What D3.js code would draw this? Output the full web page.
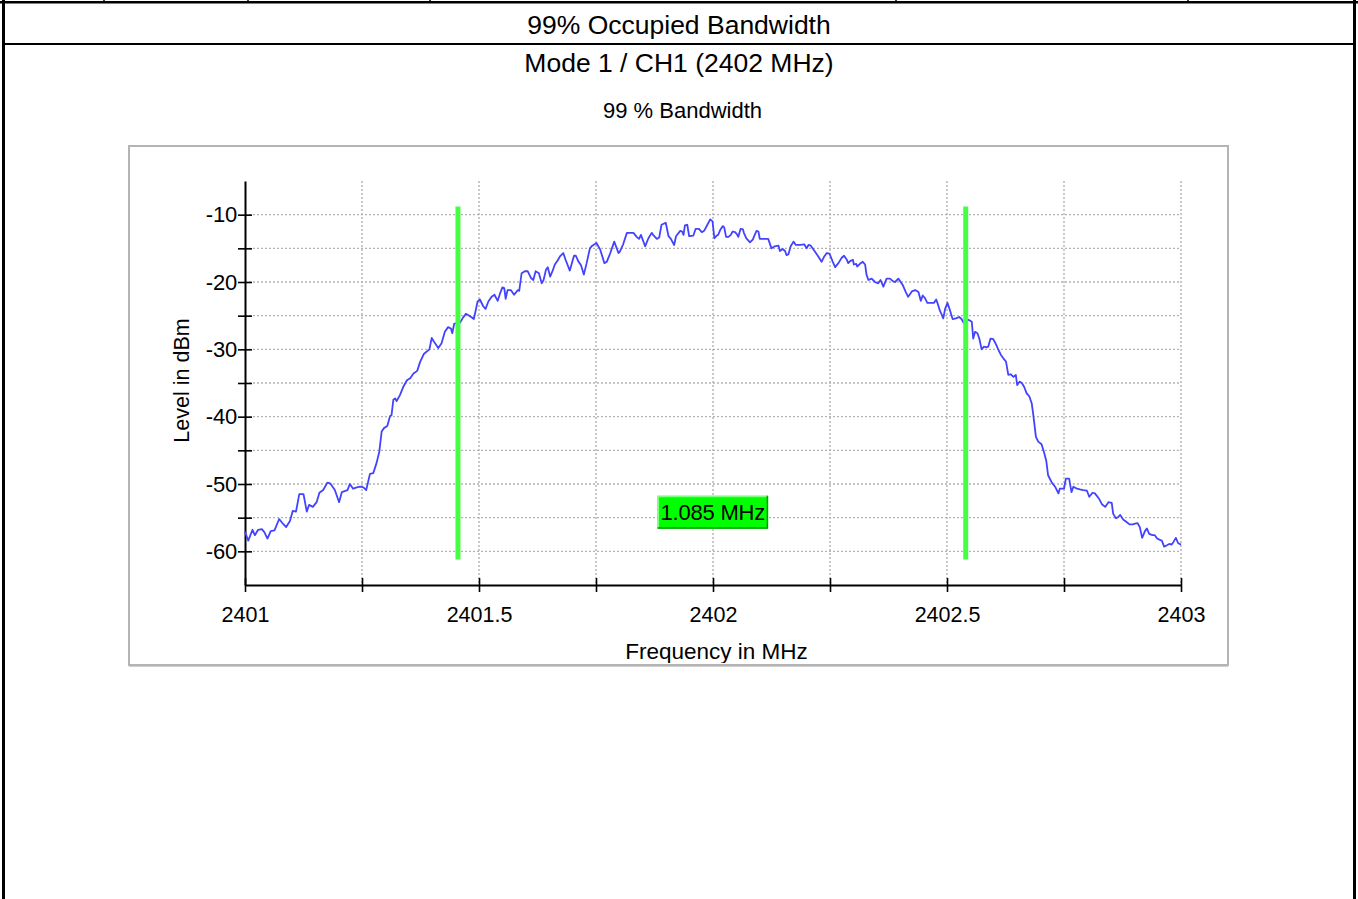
<!DOCTYPE html>
<html>
<head>
<meta charset="utf-8">
<script src="https://cdn.jsdelivr.net/npm/d3@7"></script>
<style>
  html, body { margin: 0; padding: 0; background: #ffffff; }
  svg { display: block; font-family: "Liberation Sans", Arial, sans-serif; }
</style>
</head>
<body>
<svg id="chart" width="1358" height="899"></svg>
<script>
// ---- Report texts ----
const headerTitle = "99% Occupied Bandwidth";
const subTitle = "Mode 1 / CH1 (2402 MHz)";
const chartTitle = "99 % Bandwidth";
const xAxisTitle = "Frequency in MHz";
const yAxisTitle = "Level in dBm";

// ---- Axis ticks ----
const xTicks = [2401, 2401.25, 2401.5, 2401.75, 2402, 2402.25, 2402.5, 2402.75, 2403];
const xTickLabels = ["2401", "", "2401.5", "", "2402", "", "2402.5", "", "2403"];
const yTicks = [-60, -55, -50, -45, -40, -35, -30, -25, -20, -15, -10];
const yTickLabels = ["-60", "", "-50", "", "-40", "", "-30", "", "-20", "", "-10"];

// ---- Occupied bandwidth markers ----
const obwEdges = [2401.455, 2402.540];          // MHz
const markerSpan = [-61.2, -8.8];               // dBm, vertical extent of marker lines
const obwLabel = "1.085 MHz";
const obwLabelLevel = -54.2;                    // dBm, vertical centre of the readout box

// ---- Spectrum trace ----
const freqMHz = [
  2401.000, 2401.007, 2401.016, 2401.021, 2401.028, 2401.036, 2401.041, 2401.048, 2401.055, 2401.063,
  2401.073, 2401.081, 2401.088, 2401.096, 2401.102, 2401.109, 2401.116, 2401.125, 2401.132, 2401.137,
  2401.145, 2401.153, 2401.159, 2401.167, 2401.176, 2401.182, 2401.192, 2401.201, 2401.207, 2401.219,
  2401.224, 2401.231, 2401.239, 2401.246, 2401.253, 2401.259, 2401.267, 2401.274, 2401.281, 2401.287,
  2401.292, 2401.297, 2401.304, 2401.310, 2401.313, 2401.317, 2401.321, 2401.324, 2401.331, 2401.338,
  2401.346, 2401.353, 2401.360, 2401.368, 2401.374, 2401.382, 2401.394, 2401.399, 2401.405, 2401.413,
  2401.420, 2401.427, 2401.434, 2401.440, 2401.443, 2401.447, 2401.452, 2401.459, 2401.465, 2401.472,
  2401.481, 2401.489, 2401.497, 2401.502, 2401.509, 2401.514, 2401.520, 2401.527, 2401.533, 2401.540,
  2401.545, 2401.550, 2401.554, 2401.557, 2401.561, 2401.568, 2401.575, 2401.583, 2401.586, 2401.591,
  2401.598, 2401.604, 2401.611, 2401.616, 2401.621, 2401.628, 2401.634, 2401.638, 2401.643, 2401.647,
  2401.652, 2401.657, 2401.662, 2401.668, 2401.673, 2401.680, 2401.685, 2401.694, 2401.703, 2401.707,
  2401.712, 2401.718, 2401.724, 2401.730, 2401.737, 2401.742, 2401.751, 2401.759, 2401.768, 2401.773,
  2401.780, 2401.789, 2401.798, 2401.801, 2401.808, 2401.816, 2401.823, 2401.830, 2401.837, 2401.842,
  2401.846, 2401.855, 2401.862, 2401.869, 2401.872, 2401.880, 2401.885, 2401.890, 2401.899, 2401.905,
  2401.910, 2401.917, 2401.921, 2401.930, 2401.934, 2401.937, 2401.940, 2401.945, 2401.949, 2401.958,
  2401.963, 2401.970, 2401.976, 2401.981, 2401.988, 2401.994, 2401.999, 2402.003, 2402.008, 2402.011,
  2402.016, 2402.021, 2402.024, 2402.028, 2402.033, 2402.038, 2402.042, 2402.047, 2402.051, 2402.054,
  2402.059, 2402.064, 2402.066, 2402.071, 2402.079, 2402.085, 2402.088, 2402.093, 2402.097, 2402.100,
  2402.109, 2402.118, 2402.125, 2402.132, 2402.140, 2402.143, 2402.149, 2402.154, 2402.157, 2402.161,
  2402.166, 2402.172, 2402.177, 2402.186, 2402.195, 2402.200, 2402.204, 2402.209, 2402.218, 2402.225,
  2402.232, 2402.237, 2402.243, 2402.249, 2402.256, 2402.261, 2402.268, 2402.275, 2402.280, 2402.286,
  2402.289, 2402.293, 2402.299, 2402.301, 2402.306, 2402.308, 2402.314, 2402.320, 2402.325, 2402.328,
  2402.332, 2402.339, 2402.346, 2402.353, 2402.358, 2402.364, 2402.371, 2402.378, 2402.385, 2402.389,
  2402.396, 2402.405, 2402.412, 2402.417, 2402.425, 2402.432, 2402.439, 2402.444, 2402.448, 2402.453,
  2402.458, 2402.465, 2402.472, 2402.477, 2402.481, 2402.485, 2402.489, 2402.492, 2402.496, 2402.501,
  2402.505, 2402.512, 2402.519, 2402.526, 2402.531, 2402.536, 2402.546, 2402.553, 2402.556, 2402.560,
  2402.565, 2402.569, 2402.574, 2402.579, 2402.585, 2402.588, 2402.593, 2402.599, 2402.605, 2402.610,
  2402.615, 2402.620, 2402.626, 2402.631, 2402.636, 2402.642, 2402.647, 2402.650, 2402.655, 2402.660,
  2402.665, 2402.670, 2402.676, 2402.681, 2402.684, 2402.690, 2402.695, 2402.702, 2402.707, 2402.712,
  2402.716, 2402.724, 2402.731, 2402.738, 2402.741, 2402.750, 2402.754, 2402.761, 2402.766, 2402.770,
  2402.778, 2402.784, 2402.791, 2402.799, 2402.804, 2402.811, 2402.816, 2402.825, 2402.831, 2402.838,
  2402.845, 2402.852, 2402.855, 2402.861, 2402.866, 2402.870, 2402.877, 2402.883, 2402.890, 2402.897,
  2402.902, 2402.907, 2402.912, 2402.917, 2402.923, 2402.927, 2402.932, 2402.939, 2402.944, 2402.949,
  2402.955, 2402.959, 2402.964, 2402.970, 2402.975, 2402.980, 2402.984, 2402.989, 2402.994, 2403.000
];
const levelDbm = [
  -57.1, -58.4, -56.8, -57.6, -56.8, -56.7, -57.1, -58.1, -57.0, -56.9,
  -55.2, -55.9, -56.4, -55.5, -54.0, -54.1, -51.5, -51.5, -54.1, -53.1,
  -53.4, -52.7, -51.3, -50.9, -49.8, -49.9, -50.9, -52.7, -51.2, -50.9,
  -50.0, -50.7, -50.5, -50.4, -50.5, -50.9, -48.5, -48.4, -46.9, -45.2,
  -42.2, -41.7, -41.4, -39.9, -39.8, -37.5, -37.3, -37.7, -36.8, -35.6,
  -34.6, -34.3, -33.6, -33.2, -31.9, -30.7, -30.0, -28.3, -29.0, -29.8,
  -29.1, -27.4, -26.7, -26.9, -27.6, -26.2, -26.1, -26.1, -25.4, -24.7,
  -25.1, -25.5, -22.9, -22.6, -23.6, -24.0, -22.9, -22.2, -21.9, -22.8,
  -21.7, -20.8, -20.9, -22.5, -21.2, -21.2, -21.9, -21.2, -21.3, -18.7,
  -18.4, -18.4, -19.4, -19.7, -18.4, -18.7, -20.2, -19.7, -18.2, -17.8,
  -19.2, -18.4, -17.4, -16.8, -16.2, -15.7, -16.7, -18.3, -16.1, -16.1,
  -16.9, -17.5, -18.9, -17.2, -15.0, -14.6, -14.2, -15.2, -17.2, -17.0,
  -15.8, -14.0, -15.7, -15.5, -14.4, -12.7, -12.7, -12.7, -13.3, -13.6,
  -13.0, -14.7, -13.5, -12.7, -13.0, -13.6, -13.4, -11.5, -11.2, -13.2,
  -13.6, -14.5, -13.2, -12.4, -12.5, -13.0, -11.6, -11.5, -13.2, -13.1,
  -12.1, -12.1, -12.6, -12.4, -11.5, -10.7, -11.0, -13.5, -13.1, -13.0,
  -12.2, -11.7, -11.9, -13.3, -13.3, -13.0, -12.5, -12.6, -12.9, -13.3,
  -12.1, -12.2, -12.7, -13.5, -14.1, -13.7, -13.2, -12.4, -12.5, -13.6,
  -13.6, -13.6, -15.0, -14.7, -14.6, -15.4, -15.1, -15.4, -16.0, -15.9,
  -14.7, -14.0, -14.5, -14.5, -14.4, -15.0, -14.5, -14.6, -15.5, -16.2,
  -17.0, -16.3, -15.7, -15.8, -17.0, -17.8, -17.2, -16.4, -16.1, -16.7,
  -17.2, -16.9, -16.7, -17.4, -17.3, -17.7, -17.3, -17.0, -17.4, -18.9,
  -19.7, -19.5, -20.0, -20.2, -19.7, -20.7, -19.5, -19.5, -19.9, -20.0,
  -19.5, -20.4, -21.5, -22.2, -21.4, -21.2, -21.5, -22.8, -22.0, -22.4,
  -23.1, -23.1, -23.1, -22.6, -23.4, -24.3, -24.9, -25.4, -24.0, -23.1,
  -23.9, -25.5, -25.4, -25.2, -25.5, -26.1, -25.6, -25.9, -28.4, -27.4,
  -27.6, -28.4, -30.0, -29.6, -29.7, -29.6, -28.4, -28.5, -29.3, -30.1,
  -30.8, -31.3, -31.8, -33.8, -33.7, -34.1, -33.8, -35.3, -34.8, -35.0,
  -35.6, -36.5, -37.0, -38.0, -39.5, -43.0, -43.7, -44.1, -45.2, -46.5,
  -48.7, -49.8, -50.4, -51.4, -50.7, -50.7, -49.2, -49.2, -51.2, -50.4,
  -50.7, -50.8, -50.9, -51.0, -51.9, -51.3, -51.4, -52.2, -53.0, -53.4,
  -52.7, -52.8, -54.4, -55.1, -54.9, -54.6, -55.3, -55.6, -56.0, -56.0,
  -55.9, -55.8, -56.4, -58.0, -57.0, -56.6, -57.4, -57.6, -57.6, -58.1,
  -58.3, -58.4, -59.3, -59.1, -58.9, -59.0, -58.6, -58.0, -58.8, -59.0
];

// ---- Layout ----
const W = 1358, H = 899;
const plot = { left: 245, right: 1181, top: 181, bottom: 585 };
const frame = { x: 129, y: 146, w: 1099, h: 519 };

const svg = d3.select("#chart");

// Report table borders
const tableLines = svg.append("g").attr("fill", "#000");
tableLines.append("rect").attr("x", 0).attr("y", 1).attr("width", W).attr("height", 2.5);
tableLines.append("rect").attr("x", 2).attr("y", 0).attr("width", 3).attr("height", H);
tableLines.append("rect").attr("x", 1353).attr("y", 0).attr("width", 3).attr("height", H);
tableLines.append("rect").attr("x", 3).attr("y", 43).attr("width", 1352).attr("height", 2);
[104, 248, 430, 896, 1188].forEach(cx => {
  tableLines.append("rect").attr("x", cx - 0.75).attr("y", 0).attr("width", 1.5).attr("height", 2);
});

// Header texts
svg.append("text").attr("x", 679).attr("y", 34).attr("text-anchor", "middle")
  .attr("font-size", 26.5).text(headerTitle);
svg.append("text").attr("x", 679).attr("y", 72).attr("text-anchor", "middle")
  .attr("font-size", 26.5).text(subTitle);
svg.append("text").attr("x", 682.5).attr("y", 118).attr("text-anchor", "middle")
  .attr("font-size", 22).attr("letter-spacing", 0).text(chartTitle);

// Chart frame
svg.append("rect").attr("x", frame.x).attr("y", frame.y).attr("width", frame.w).attr("height", frame.h)
  .attr("fill", "#fff").attr("stroke", "#b4b4b4").attr("stroke-width", 2);
svg.append("line").attr("x1", frame.x).attr("x2", frame.x + frame.w)
  .attr("y1", frame.y + frame.h + 1.5).attr("y2", frame.y + frame.h + 1.5)
  .attr("stroke", "#cfcfcf").attr("stroke-width", 1);

svg.append("clipPath").attr("id", "frameClip").append("rect")
  .attr("x", frame.x + 1).attr("y", frame.y + 1).attr("width", frame.w - 2).attr("height", frame.h - 3);

// Scales
const x = d3.scaleLinear().domain([2401, 2403]).range([plot.left, plot.right]);
const y = d3.scaleLinear().domain([-65, -5]).range([plot.bottom, plot.top]);

// Dotted grid
const grid = svg.append("g").attr("stroke", "#b2b2b2").attr("stroke-width", 1.4)
  .attr("stroke-dasharray", "2 2");
grid.selectAll("line.h").data(yTicks).join("line").attr("class", "h")
  .attr("x1", plot.left).attr("x2", plot.right)
  .attr("y1", d => y(d)).attr("y2", d => y(d));
grid.selectAll("line.v").data(xTicks.slice(1)).join("line").attr("class", "v")
  .attr("x1", d => x(d)).attr("x2", d => x(d))
  .attr("y1", plot.top).attr("y2", plot.bottom);

// Axes
const yAxis = svg.append("g").attr("transform", `translate(${plot.left},0)`)
  .call(d3.axisLeft(y).tickValues(yTicks).tickSizeInner(7).tickSizeOuter(0).tickPadding(1)
    .tickFormat((d, i) => yTickLabels[i]));
yAxis.select(".domain").attr("stroke", "#000").attr("stroke-width", 2);
yAxis.selectAll(".tick line").attr("x1", 7).attr("x2", -7).attr("stroke", "#000").attr("stroke-width", 1.6);
yAxis.selectAll(".tick text").attr("font-size", 22).attr("fill", "#000")
  .attr("font-family", "Liberation Sans, Arial, sans-serif").attr("letter-spacing", -0.2);

const xAxis = svg.append("g").attr("transform", `translate(0,${plot.bottom})`)
  .call(d3.axisBottom(x).tickValues(xTicks).tickSizeInner(7).tickSizeOuter(0).tickPadding(14.5)
    .tickFormat((d, i) => xTickLabels[i]));
xAxis.select(".domain").attr("stroke", "#000").attr("stroke-width", 2);
xAxis.selectAll(".tick line").attr("y1", -7).attr("y2", 7).attr("stroke", "#000").attr("stroke-width", 1.6);
xAxis.selectAll(".tick text").attr("font-size", 21.5).attr("fill", "#000")
  .attr("font-family", "Liberation Sans, Arial, sans-serif").attr("letter-spacing", 0);

// Axis titles
svg.append("g").attr("clip-path", "url(#frameClip)")
  .append("text").attr("x", 716.5).attr("y", 659).attr("text-anchor", "middle")
  .attr("font-size", 22.5).text(xAxisTitle);
svg.append("text").attr("transform", "translate(189,380.5) rotate(-90)")
  .attr("text-anchor", "middle").attr("font-size", 21.5).text(yAxisTitle);

// Spectrum trace
const trace = freqMHz.map((f, i) => [f, levelDbm[i]]);
svg.append("path").datum(trace)
  .attr("fill", "none").attr("stroke", "#4343ff").attr("stroke-width", 1.8)
  .attr("stroke-linejoin", "round")
  .attr("d", d3.line().x(d => x(d[0])).y(d => y(d[1])));

// Occupied bandwidth edge markers
svg.selectAll("line.obw").data(obwEdges).join("line").attr("class", "obw")
  .attr("x1", d => x(d)).attr("x2", d => x(d))
  .attr("y1", y(markerSpan[1])).attr("y2", y(markerSpan[0]))
  .attr("stroke", "#44ff44").attr("stroke-width", 5);

// Bandwidth readout box
const cx = x((obwEdges[0] + obwEdges[1]) / 2) + 1;
const cy = y(obwLabelLevel);
const lab = svg.append("g");
const labBox = lab.append("rect").attr("fill", "#00ff00");
const labText = lab.append("text").attr("x", cx).attr("y", cy + 8).attr("text-anchor", "middle")
  .attr("font-size", 22).attr("letter-spacing", -0.2).attr("fill", "#000").text(obwLabel);
const tw = labText.node().getComputedTextLength();
const bw = tw + 6, bh = 33;
labBox.attr("x", cx - bw / 2).attr("y", cy - bh / 2).attr("width", bw).attr("height", bh);
lab.append("path").attr("fill", "none").attr("stroke", "#7dff7d").attr("stroke-width", 1.5)
  .attr("d", `M${cx - bw / 2 + 0.75},${cy + bh / 2}V${cy - bh / 2 + 0.75}H${cx + bw / 2}`);
lab.append("path").attr("fill", "none").attr("stroke", "#00a000").attr("stroke-width", 1.5)
  .attr("d", `M${cx - bw / 2},${cy + bh / 2 - 0.75}H${cx + bw / 2 - 0.75}V${cy - bh / 2}`);
</script>
</body>
</html>
